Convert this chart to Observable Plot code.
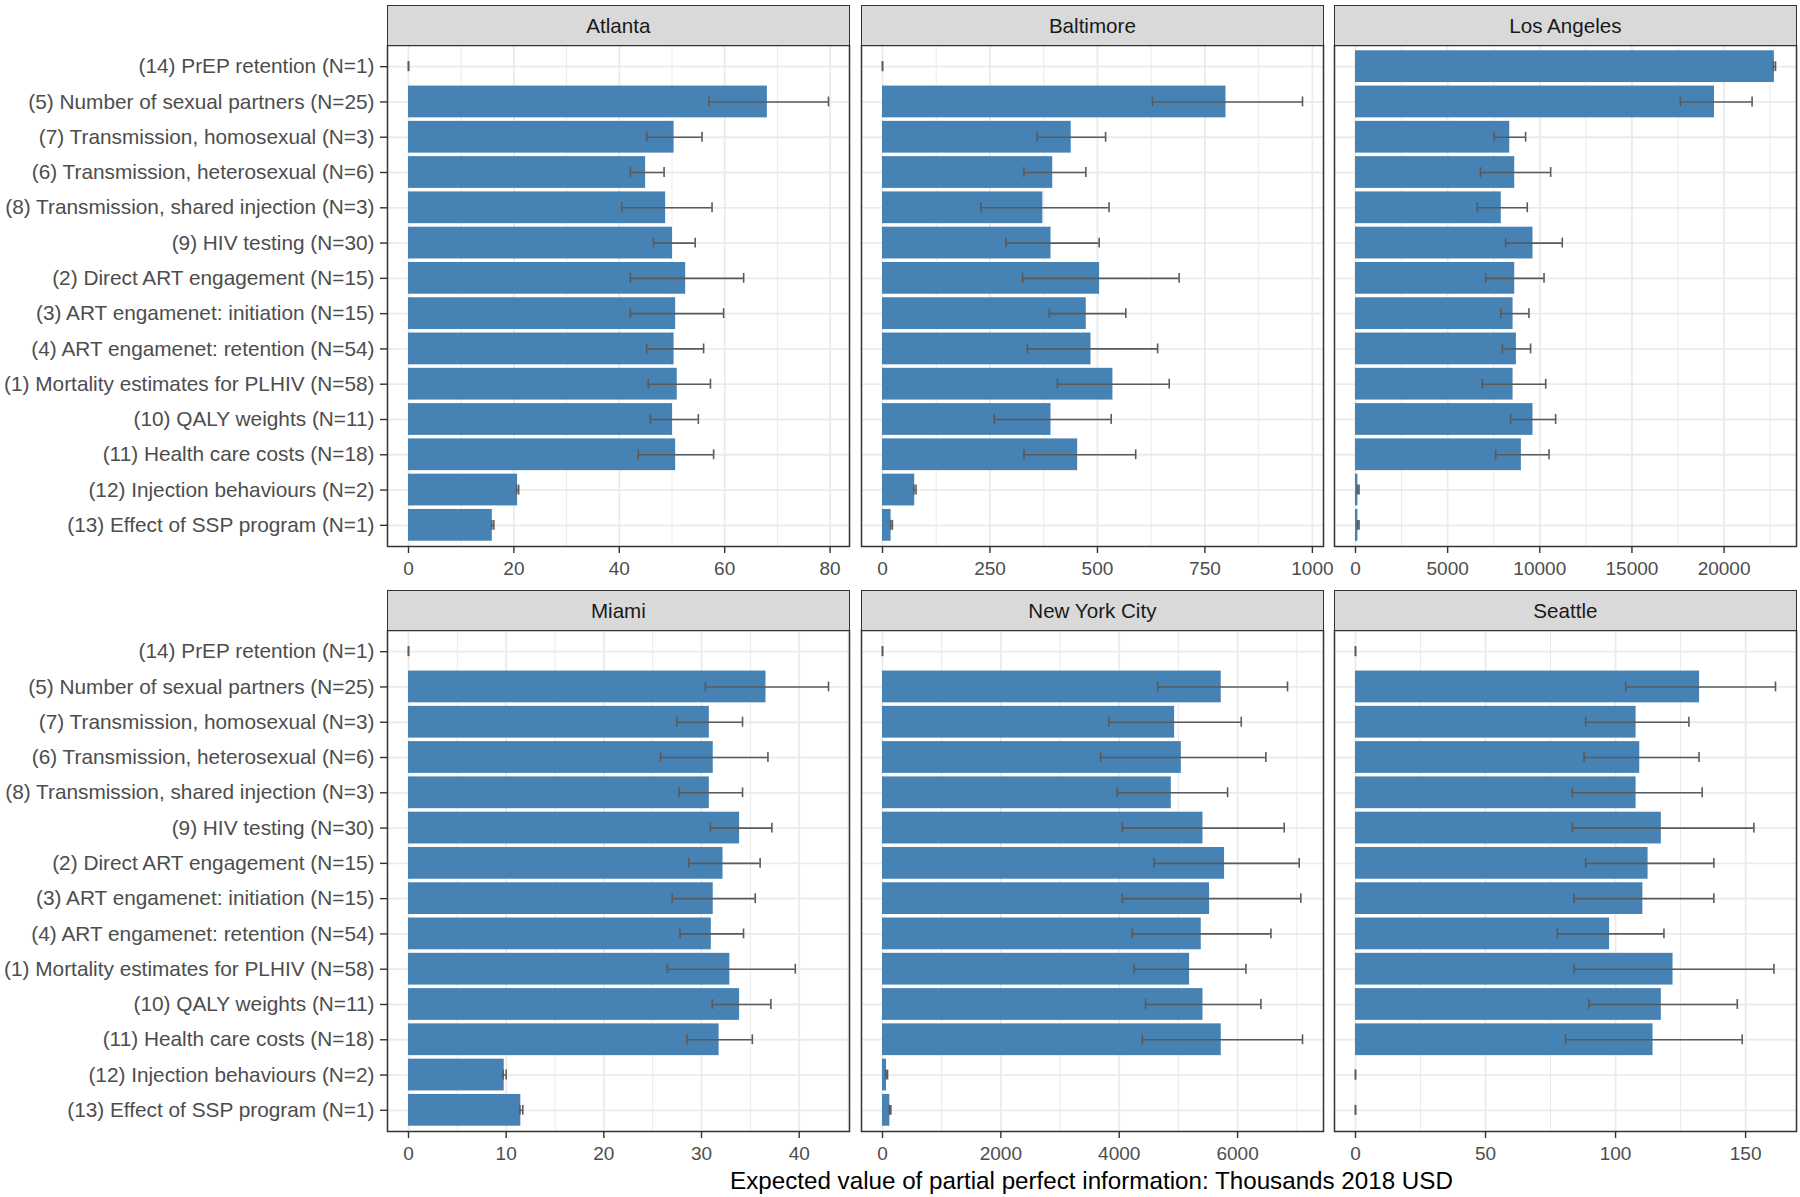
<!DOCTYPE html>
<html>
<head>
<meta charset="utf-8">
<script src="https://cdn.jsdelivr.net/npm/d3@7"></script>
<script src="https://cdn.jsdelivr.net/npm/@observablehq/plot@0.6"></script>
<style>
html, body { margin: 0; padding: 0; background: #fff; }
#chart { position: relative; width: 1800px; height: 1197px; background: #fff; overflow: hidden;
  font-family: "Liberation Sans", Arial, sans-serif; }
.strip { position: absolute; box-sizing: border-box; background: #d9d9d9; border: 1.5px solid #333;
  color: #1a1a1a; font-size: 20.6px; display: flex; align-items: center; justify-content: center; padding-top: 2px; }
.panel { position: absolute; }
#xtitle { position: absolute; text-align: center; color: #000; font-size: 24.2px; line-height: 30px; white-space: nowrap; }
</style>
</head>
<body>
<div id="chart"></div>
<script>
// ---- Data ----
const categories = [
  "(14) PrEP retention (N=1)",
  "(5) Number of sexual partners (N=25)",
  "(7) Transmission, homosexual (N=3)",
  "(6) Transmission, heterosexual (N=6)",
  "(8) Transmission, shared injection (N=3)",
  "(9) HIV testing (N=30)",
  "(2) Direct ART engagement (N=15)",
  "(3) ART engamenet: initiation (N=15)",
  "(4) ART engamenet: retention (N=54)",
  "(1) Mortality estimates for PLHIV (N=58)",
  "(10) QALY weights (N=11)",
  "(11) Health care costs (N=18)",
  "(12) Injection behaviours (N=2)",
  "(13) Effect of SSP program (N=1)"
];
const cities = ["Atlanta", "Baltimore", "Los Angeles", "Miami", "New York City", "Seattle"];

const atlantaValue = [0, 68.1, 50.4, 45.0, 48.8, 50.1, 52.6, 50.7, 50.4, 51.0, 50.1, 50.7, 20.7, 15.9];
const atlantaLower = [0, 57.0, 45.2, 42.1, 40.5, 46.5, 42.1, 42.1, 45.2, 45.5, 45.9, 43.6, 20.5, 15.8];
const atlantaUpper = [0, 79.7, 55.7, 48.5, 57.6, 54.4, 63.6, 59.8, 56.0, 57.3, 55.0, 57.9, 20.9, 16.2];

const baltimoreValue = [0, 799, 439, 396, 373, 392, 505, 474, 485, 536, 392, 454, 75, 20];
const baltimoreLower = [0, 628, 360, 329, 229, 287, 326, 388, 337, 407, 260, 329, 73, 19];
const baltimoreUpper = [0, 977, 519, 473, 527, 504, 690, 566, 640, 667, 532, 589, 78, 23];

const losAngelesValue = [22730, 19480, 8370, 8640, 7910, 9630, 8640, 8550, 8730, 8550, 9630, 9000, 130, 130];
const losAngelesLower = [22680, 17630, 7520, 6780, 6610, 8150, 7060, 7880, 7970, 6880, 8420, 7610, 110, 110];
const losAngelesUpper = [22790, 21520, 9230, 10590, 9320, 11220, 10230, 9410, 9500, 10320, 10860, 10500, 190, 190];

const miamiValue = [0, 36.6, 30.8, 31.2, 30.8, 33.9, 32.2, 31.2, 31.0, 32.9, 33.9, 31.8, 9.8, 11.5];
const miamiLower = [0, 30.4, 27.5, 25.8, 27.7, 30.9, 28.7, 27.0, 27.8, 26.5, 31.1, 28.5, 9.7, 11.4];
const miamiUpper = [0, 43.0, 34.2, 36.8, 34.2, 37.2, 36.0, 35.5, 34.3, 39.6, 37.1, 35.2, 10.0, 11.7];

const newYorkValue = [0, 5724, 4936, 5049, 4880, 5415, 5780, 5527, 5386, 5189, 5415, 5724, 68, 124];
const newYorkLower = [0, 4649, 3827, 3687, 3968, 4052, 4587, 4052, 4221, 4249, 4446, 4390, 60, 115];
const newYorkUpper = [0, 6844, 6062, 6478, 5831, 6788, 7041, 7069, 6563, 6141, 6394, 7097, 85, 141];

const seattleValue = [0, 132.3, 107.9, 109.3, 107.9, 117.6, 112.5, 110.5, 97.7, 122.1, 117.6, 114.4, 0, 0];
const seattleLower = [0, 103.9, 88.5, 87.9, 83.4, 83.4, 88.5, 84.0, 77.6, 84.0, 89.8, 80.8, 0, 0];
const seattleUpper = [0, 161.5, 128.2, 132.1, 133.3, 153.2, 137.8, 137.8, 118.6, 160.9, 146.8, 148.7, 0, 0];

const atlantaTicks = [0, 20, 40, 60, 80];
const baltimoreTicks = [0, 250, 500, 750, 1000];
const losAngelesTicks = [0, 5000, 10000, 15000, 20000];
const miamiTicks = [0, 10, 20, 30, 40];
const newYorkTicks = [0, 2000, 4000, 6000];
const seattleTicks = [0, 50, 100, 150];

const xTitle = "Expected value of partial perfect information: Thousands 2018 USD";

// ---- Assemble ----
const series = [
  [atlantaValue, atlantaLower, atlantaUpper, atlantaTicks],
  [baltimoreValue, baltimoreLower, baltimoreUpper, baltimoreTicks],
  [losAngelesValue, losAngelesLower, losAngelesUpper, losAngelesTicks],
  [miamiValue, miamiLower, miamiUpper, miamiTicks],
  [newYorkValue, newYorkLower, newYorkUpper, newYorkTicks],
  [seattleValue, seattleLower, seattleUpper, seattleTicks]
];

// layout
const colLeft = [387, 861, 1334];
const panelW = 462;
const stripTop = [4.5, 589.5];
const stripH = 41;
const panelH = 501;
const mb = 45;
const font = '"Liberation Sans", Arial, sans-serif';
const errColor = "#5a5a5a";
const gridColor = "#ebebeb";

const chart = document.getElementById("chart");

cities.forEach((city, p) => {
  const col = p % 3, row = Math.floor(p / 3);
  const [vals, lo, hi, ticks] = series[p];
  const rows = categories.map((c, i) => ({cat: c, v: vals[i], lo: lo[i], hi: hi[i]}));
  const M = d3.max(rows, d => Math.max(d.v, d.hi));
  const domain = [-0.05 * M, 1.05 * M];
  // minor breaks (ggplot-style): midpoints between majors, extended one step, inside limits
  const bd = ticks[1] - ticks[0];
  const ext = [ticks[0] - bd, ...ticks, ticks[ticks.length - 1] + bd];
  const minor = d3.pairs(ext).map(([a, b]) => (a + b) / 2).filter(m => m >= domain[0] && m <= domain[1]);

  const ml = col === 0 ? colLeft[0] : 1;
  const svgLeft = colLeft[col] - ml;
  const panelTop = stripTop[row] + stripH - 0.75;

  const step = panelH / 14.2;
  const band = step * 0.9;
  const capH = step * 0.28;
  const inset = (band - capH) / 2;

  const marks = [
    Plot.ruleX(minor, {stroke: gridColor, strokeWidth: 1}),
    Plot.gridX(ticks, {stroke: gridColor, strokeOpacity: 1, strokeWidth: 1.8}),
    Plot.gridY(categories, {stroke: gridColor, strokeOpacity: 1, strokeWidth: 1.8}),
    Plot.barX(rows, {x1: d => 0, x2: "v", y: "cat", fill: "steelblue"}),
    Plot.ruleY(rows, {x1: "lo", x2: "hi", y: "cat", stroke: errColor, strokeWidth: 1.6}),
    Plot.tickX(rows, {x: "lo", y: "cat", stroke: errColor, strokeWidth: 1.6, insetTop: inset, insetBottom: inset}),
    Plot.tickX(rows, {x: "hi", y: "cat", stroke: errColor, strokeWidth: 1.6, insetTop: inset, insetBottom: inset}),
    Plot.frame({stroke: "#333", strokeWidth: 1.5}),
    Plot.axisX(ticks, {tickSize: 7, tickPadding: 8, fontSize: 19, stroke: "#333", strokeWidth: 1.4,
      fill: "#4d4d4d", tickFormat: d => String(d), label: null})
  ];
  if (col === 0) {
    marks.push(Plot.axisY({tickSize: 7, tickPadding: 6, fontSize: 20.8, stroke: "#333", strokeWidth: 1.4,
      fill: "#4d4d4d", label: null}));
  }

  const svg = Plot.plot({
    width: ml + panelW + 1,
    height: 1 + panelH + mb,
    marginLeft: ml,
    marginRight: 1,
    marginTop: 1,
    marginBottom: mb,
    style: {fontFamily: font, fontSize: "19px", background: "transparent", overflow: "visible"},
    x: {domain, label: null},
    y: {domain: categories, type: "band", paddingInner: 0.1, paddingOuter: 0.15, round: false, label: null, axis: null},
    marks
  });
  svg.classList.add("panel");
  svg.style.left = svgLeft + "px";
  svg.style.top = (panelTop - 1) + "px";
  chart.appendChild(svg);

  const strip = document.createElement("div");
  strip.className = "strip";
  strip.textContent = city;
  strip.style.left = colLeft[col] + "px";
  strip.style.top = stripTop[row] + "px";
  strip.style.width = (panelW + 0.75) + "px";
  strip.style.height = stripH + "px";
  chart.appendChild(strip);
});

const title = document.createElement("div");
title.id = "xtitle";
title.textContent = xTitle;
title.style.left = colLeft[0] + "px";
title.style.width = (colLeft[2] + panelW - colLeft[0]) + "px";
title.style.top = "1166px";
chart.appendChild(title);
</script>
</body>
</html>
